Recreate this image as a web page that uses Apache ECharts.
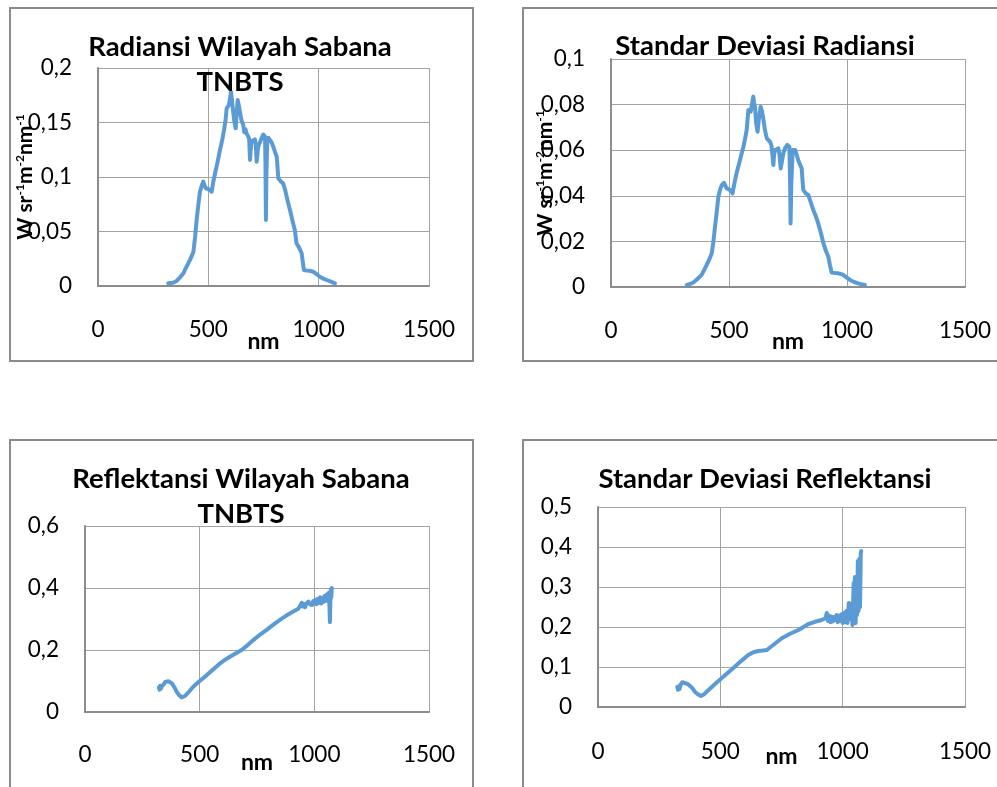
<!DOCTYPE html>
<html><head><meta charset="utf-8">
<script src="https://cdn.jsdelivr.net/npm/echarts@6/dist/echarts.min.js"></script>
<style>html,body{margin:0;padding:0;background:#fff}#c{width:997px;height:787px}</style>
</head><body><div id="c"></div><script>
// ---- data (nm, value) ----
const xTicks = [0, 500, 1000, 1500];
const titles = ["Radiansi Wilayah Sabana\nTNBTS", "Standar Deviasi Radiansi", "Reflektansi Wilayah Sabana\nTNBTS", "Standar Deviasi Reflektansi"];
const xName = "nm";

const radiance = [[318,0.0025],[340,0.003],[356,0.0046],[372,0.008],[387,0.0117],[402,0.018],[417,0.024],[432,0.031],[440,0.045],[447,0.0606],[455,0.075],[462,0.0865],[470,0.092],[477,0.0957],[483,0.092],[489,0.0896],[500,0.089],[508,0.088],[515,0.0865],[522,0.095],[530,0.103],[541,0.113],[553,0.125],[562,0.133],[571,0.143],[578,0.152],[583,0.163],[593,0.166],[598,0.165],[603,0.178],[606,0.172],[610,0.1645],[617,0.152],[624,0.1447],[628,0.158],[633,0.1706],[638,0.166],[643,0.16],[650,0.152],[658,0.1477],[663,0.141],[668,0.144],[673,0.14],[681,0.137],[685,0.135],[689,0.1156],[692,0.125],[696,0.1324],[703,0.134],[711,0.1346],[715,0.13],[719,0.114],[722,0.12],[726,0.1278],[732,0.131],[738,0.134],[744,0.137],[749,0.139],[757,0.137],[759,0.11],[761,0.0606],[763,0.1],[767,0.134],[772,0.136],[779,0.1355],[786,0.132],[794,0.128],[802,0.123],[810,0.1186],[814,0.108],[817,0.0988],[828,0.096],[839,0.0942],[847,0.089],[855,0.082],[862,0.076],[870,0.0697],[880,0.061],[886,0.056],[892,0.0514],[896,0.045],[900,0.039],[912,0.035],[923,0.030],[928,0.022],[933,0.0147],[945,0.0142],[960,0.014],[968,0.0138],[975,0.0131],[990,0.011],[1005,0.0085],[1020,0.0068],[1036,0.0055],[1055,0.004],[1074,0.0025]];

const stdRadiance = [[321,0.0009],[335,0.0013],[349,0.0020],[366,0.0035],[384,0.0053],[395,0.0075],[405,0.0096],[416,0.012],[427,0.0148],[434,0.02],[441,0.0265],[448,0.033],[455,0.0396],[462,0.0425],[469,0.0447],[479,0.0457],[484,0.0445],[490,0.0433],[497,0.043],[505,0.0425],[515,0.0411],[522,0.045],[532,0.0499],[545,0.055],[561,0.0615],[568,0.065],[575,0.0689],[582,0.0776],[587,0.0772],[592,0.0769],[603,0.0835],[606,0.081],[610,0.0791],[615,0.072],[621,0.0681],[627,0.074],[634,0.0791],[640,0.077],[645,0.074],[652,0.069],[660,0.0652],[667,0.0645],[674,0.0637],[680,0.062],[688,0.0535],[691,0.058],[695,0.0601],[702,0.0605],[709,0.0608],[714,0.058],[719,0.052],[724,0.055],[730,0.0586],[738,0.061],[747,0.0623],[756,0.0615],[759,0.045],[761,0.0279],[764,0.045],[770,0.0601],[780,0.0601],[787,0.058],[793,0.0557],[800,0.054],[808,0.052],[812,0.046],[815,0.0425],[826,0.041],[836,0.0404],[847,0.037],[857,0.0338],[868,0.031],[878,0.0279],[890,0.0235],[900,0.0192],[910,0.016],[921,0.0133],[928,0.0095],[935,0.0063],[950,0.0061],[963,0.006],[975,0.0057],[984,0.0053],[998,0.0042],[1013,0.0031],[1030,0.0022],[1050,0.0015],[1076,0.0009]];

const reflectance = [[322,0.08],[325,0.072],[328,0.085],[331,0.075],[334,0.082],[338,0.078],[344,0.09],[350,0.097],[356,0.1],[364,0.099],[371,0.098],[378,0.093],[385,0.087],[392,0.077],[400,0.065],[410,0.055],[421,0.047],[428,0.048],[436,0.0516],[454,0.066],[472,0.0817],[500,0.1],[531,0.119],[560,0.138],[589,0.157],[610,0.168],[632,0.178],[660,0.19],[683,0.2],[708,0.215],[734,0.232],[762,0.249],[792,0.265],[820,0.281],[850,0.297],[878,0.311],[908,0.324],[930,0.333],[940,0.345],[945,0.352],[950,0.340],[955,0.348],[960,0.338],[965,0.350],[970,0.345],[975,0.356],[980,0.348],[985,0.352],[990,0.345],[995,0.358],[1000,0.350],[1005,0.362],[1010,0.348],[1015,0.365],[1020,0.352],[1025,0.370],[1030,0.350],[1035,0.368],[1040,0.355],[1045,0.375],[1050,0.358],[1055,0.380],[1060,0.362],[1063,0.385],[1066,0.340],[1068,0.29],[1070,0.36],[1072,0.395],[1074,0.37],[1076,0.40]];

const stdReflectance = [[324,0.05],[327,0.043],[330,0.052],[333,0.045],[337,0.055],[341,0.05],[345,0.062],[349,0.058],[354,0.06],[360,0.056],[368,0.057],[376,0.055],[386,0.047],[396,0.038],[408,0.032],[421,0.0275],[432,0.031],[444,0.038],[474,0.055],[505,0.0717],[532,0.086],[560,0.101],[587,0.116],[614,0.13],[635,0.137],[655,0.14],[672,0.141],[690,0.1425],[720,0.157],[751,0.172],[785,0.183],[819,0.1925],[840,0.2],[860,0.2075],[887,0.213],[914,0.2175],[920,0.218],[930,0.222],[935,0.235],[940,0.215],[945,0.228],[950,0.212],[955,0.226],[960,0.214],[965,0.225],[970,0.218],[975,0.23],[980,0.212],[985,0.228],[990,0.215],[995,0.232],[1000,0.21],[1005,0.235],[1010,0.212],[1015,0.24],[1020,0.21],[1025,0.26],[1030,0.22],[1035,0.258],[1040,0.205],[1045,0.31],[1048,0.24],[1050,0.325],[1053,0.21],[1056,0.32],[1059,0.23],[1062,0.365],[1065,0.24],[1068,0.37],[1071,0.25],[1074,0.385],[1076,0.39]];

const yMax = [0.2, 0.1, 0.6, 0.5];
const yStep = [0.05, 0.02, 0.2, 0.1];
const yUnit = '{b|W sr}{s|-1}{b|m}{s|-2}{b|nm}{s|-1}';

// ---- layout ----
const FONT = 'Lato';
const grids = [
  {left: 98, top: 68, width: 331, height: 218},
  {left: 611, top: 59, width: 354, height: 228},
  {left: 85, top: 526, width: 344, height: 186},
  {left: 598, top: 507, width: 367, height: 200}
];
const gridColor = '#a3a3a3';
const fmt = v => String(+v.toFixed(3)).replace('.', ',');
const seriesData = [radiance, stdRadiance, reflectance, stdReflectance];

const xAxis = grids.map((g, i) => ({
  type: 'value', gridIndex: i, min: xTicks[0], max: xTicks[xTicks.length-1], interval: xTicks[1]-xTicks[0],
  name: xName, nameLocation: 'middle', nameGap: [44, 43, 39, 38][i], nameMoveOverlap: false,
  nameTextStyle: {fontFamily: FONT, fontWeight: 'bold', fontSize: 23, color: '#000'},
  axisLine: {show: true, lineStyle: {color: '#8c8c8c', width: 2}},
  axisTick: {show: false},
  axisLabel: {fontFamily: FONT, fontSize: 22.5, color: '#000', margin: [32, 32, 31, 33][i], formatter: v => String(v)},
  splitLine: {show: true, lineStyle: {color: gridColor, width: 1}}
}));
const yAxis = grids.map((g, i) => ({
  type: 'value', gridIndex: i, min: 0, max: yMax[i], interval: yStep[i],
  name: i < 2 ? yUnit : '', nameLocation: 'middle', nameRotate: 90, nameGap: [62, 55, 0, 0][i], nameMoveOverlap: false,
  nameTextStyle: {rich: {
    b: {fontFamily: FONT, fontWeight: 'bold', fontSize: 21, color: '#000', lineHeight: 22},
    s: {fontFamily: FONT, fontWeight: 'bold', fontSize: 12, color: '#000', verticalAlign: 'top', lineHeight: 22}
  }},
  axisLine: {show: true, lineStyle: {color: '#8c8c8c', width: 2}},
  axisTick: {show: false},
  axisLabel: {fontFamily: FONT, fontSize: 22.5, color: '#000', margin: 26, formatter: fmt},
  splitLine: {show: true, lineStyle: {color: gridColor, width: 1}}
}));
const series = seriesData.map((d, i) => ({
  type: 'line', xAxisIndex: i, yAxisIndex: i, data: d, showSymbol: false, symbol: 'none',
  lineStyle: {color: '#5B9BD5', width: 4, join: 'round', cap: 'round'}, animation: false, silent: true, z: 3
}));

const borders = [[10, 8, 463, 353], [523, 8, 500, 353], [10, 440, 463, 400], [523, 440, 500, 400]];
const titlePos = [[240, 47], [765, 46], [241, 479], [765, 479]];
const graphic = [];
borders.forEach(b => graphic.push({type: 'rect', shape: {x: b[0], y: b[1], width: b[2], height: b[3]},
  style: {fill: 'none', stroke: '#8a8a8a', lineWidth: 2}, z: 1, silent: true}));
titles.forEach((t, i) => {
  t.split('\n').forEach((line, j) => graphic.push({type: 'text', z: 100, silent: true,
    style: {text: line, x: titlePos[i][0], y: titlePos[i][1] + j * 35, align: 'center', verticalAlign: 'middle',
      font: 'bold 27.5px ' + FONT, fill: '#000'}}));
});

const chart = echarts.init(document.getElementById('c'), null, {renderer: 'canvas'});
chart.setOption({
  animation: false, backgroundColor: '#fff',
  grid: grids, xAxis, yAxis, series, graphic
});
</script></body></html>
